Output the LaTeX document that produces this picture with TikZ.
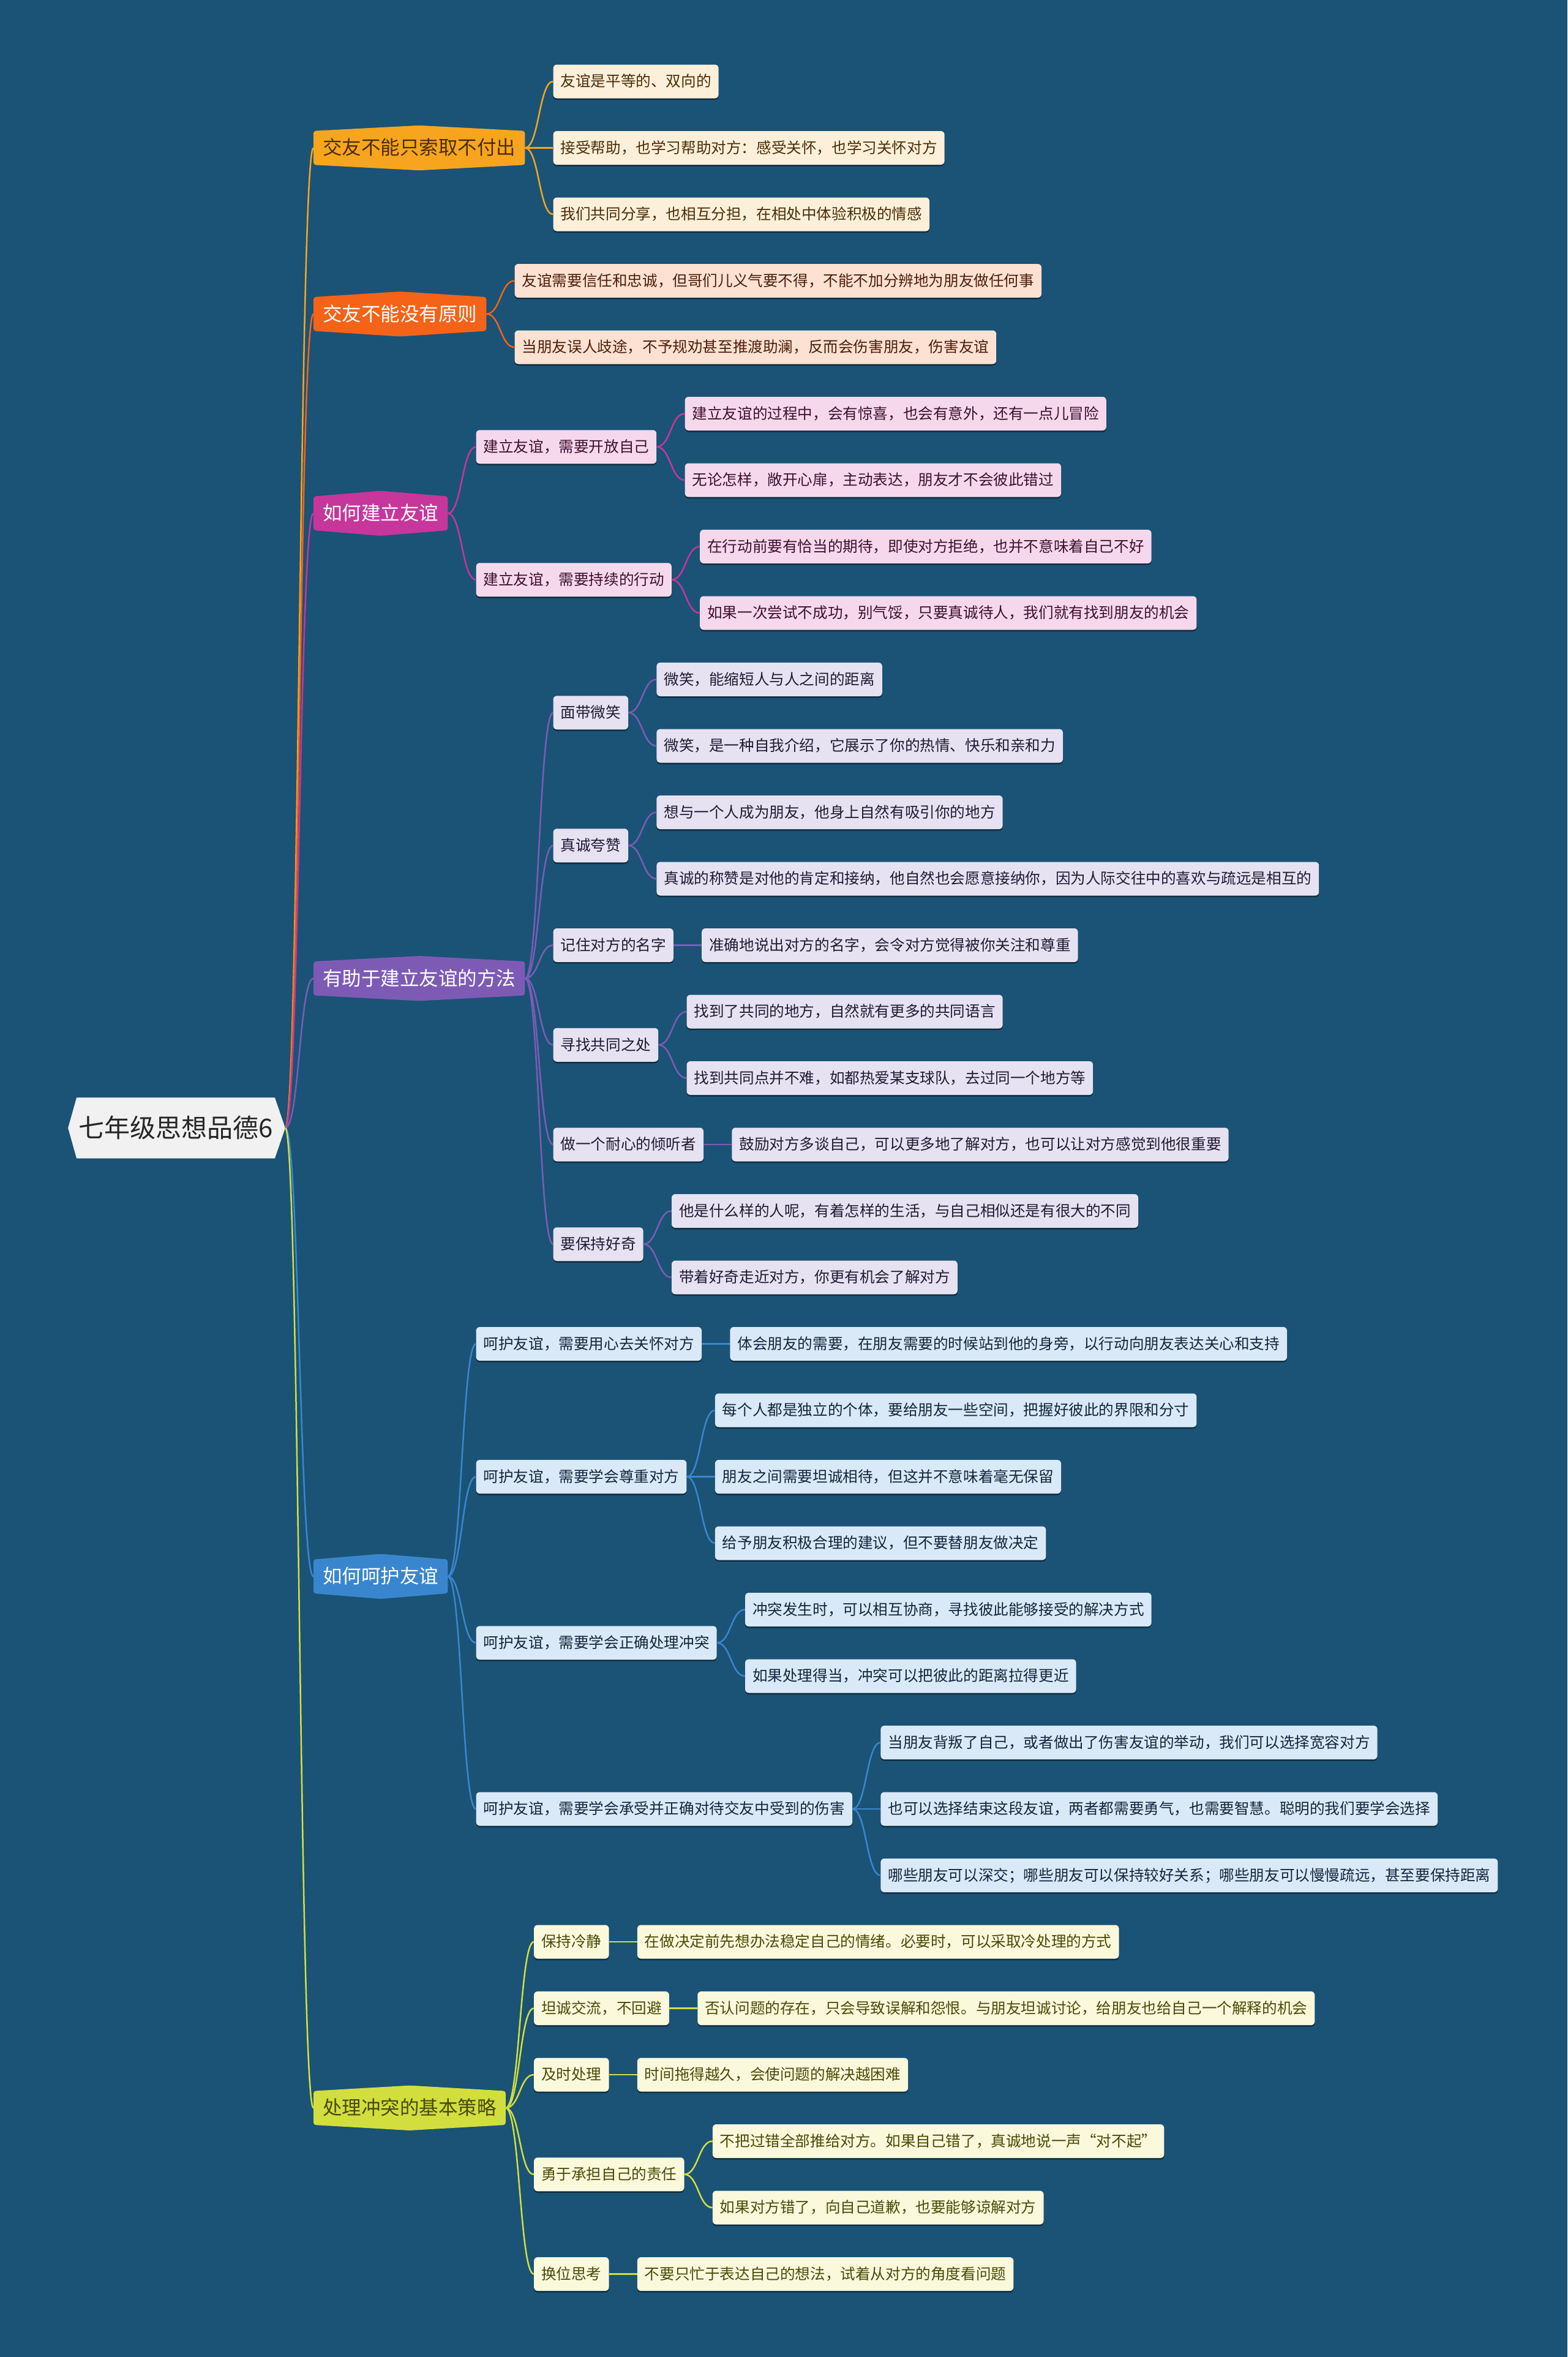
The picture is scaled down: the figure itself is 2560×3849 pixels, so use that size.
\documentclass[tikz,border=0pt]{standalone}
\usepackage{fontspec}
\newfontfamily\cjk{Noto Sans CJK SC}
\usetikzlibrary{positioning,backgrounds,shadows}

\definecolor{bgblue}{RGB}{26,83,118}
\definecolor{rootfill}{RGB}{241,241,241}
\definecolor{mainA}{RGB}{247,165,30}
\definecolor{mainB}{RGB}{244,99,24}
\definecolor{mainC}{RGB}{199,54,154}
\definecolor{mainD}{RGB}{125,91,181}
\definecolor{mainE}{RGB}{58,134,206}
\definecolor{mainF}{RGB}{210,222,62}
\definecolor{leafA}{RGB}{253,240,218}
\definecolor{leafB}{RGB}{253,226,211}
\definecolor{leafC}{RGB}{246,216,236}
\definecolor{leafD}{RGB}{230,226,242}
\definecolor{leafE}{RGB}{218,233,247}
\definecolor{leafF}{RGB}{250,249,220}
\definecolor{txtA}{RGB}{74,46,6}
\definecolor{txtB}{RGB}{77,30,10}
\definecolor{txtC}{RGB}{62,16,48}
\definecolor{txtD}{RGB}{32,27,50}
\definecolor{txtE}{RGB}{18,38,62}
\definecolor{txtF}{RGB}{74,74,8}

\tikzset{
  leaf/.style={anchor=west, rounded corners=6pt, minimum height=55pt,
    inner xsep=12pt, inner ysep=0pt, text height=21pt, text depth=3.5pt,
    font=\cjk\fontsize{24.6}{28}\selectfont,
    drop shadow={shadow xshift=0pt, shadow yshift=-2.5pt, opacity=0.45, fill=black}},
  mainnode/.style={anchor=west, minimum height=55pt, inner xsep=15pt, inner ysep=0pt,
    text height=27pt, text depth=4.5pt, font=\cjk\fontsize{31.5}{36}\selectfont},
  rootnode/.style={minimum height=99pt, inner xsep=3pt, inner ysep=0pt,
    text height=36pt, text depth=6pt, text=black!85, font=\cjk\fontsize{42}{48}\selectfont},
  lfA/.style={leaf, fill=leafA, text=txtA}, lfB/.style={leaf, fill=leafB, text=txtB},
  lfC/.style={leaf, fill=leafC, text=txtC}, lfD/.style={leaf, fill=leafD, text=txtD},
  lfE/.style={leaf, fill=leafE, text=txtE}, lfF/.style={leaf, fill=leafF, text=txtF},
  lnA/.style={draw=mainA, line width=2.5pt}, lnB/.style={draw=mainB, line width=2.5pt},
  lnC/.style={draw=mainC, line width=2.5pt}, lnD/.style={draw=mainD, line width=2.5pt},
  lnE/.style={draw=mainE, line width=2.5pt}, lnF/.style={draw=mainF, line width=2.5pt}
}

\begin{document}
\begin{tikzpicture}[x=1pt, y=-1pt]
    \useasboundingbox (0,0) rectangle (2560,3849);
    \begin{scope}[on background layer]
        \fill[bgblue] (0,0) rectangle (2560,3849);
    \end{scope}

    % centre
    \node[rootnode] (root) at (287,1842) {七年级思想品德6};
    \coordinate (rtip) at ([xshift=17pt]root.east);

    % main topics
    \node[mainnode, text=txtA] (m1) at (512,241.5) {交友不能只索取不付出};
    \node[mainnode, text=white] (m2) at (512,512.75) {交友不能没有原则};
    \node[mainnode, text=white] (m3) at (512,838.25) {如何建立友谊};
    \node[mainnode, text=white] (m4) at (512,1597.75) {有助于建立友谊的方法};
    \node[mainnode, text=white] (m5) at (512,2574.25) {如何呵护友谊};
    \node[mainnode, text=txtF] (m6) at (512,3442.25) {处理冲突的基本策略};

    % branch 1
    \node[lfA] (l1a) at (m1.east |- 0,133) [xshift=46pt] {友谊是平等的、双向的};
    \node[lfA] (l1b) at (m1.east |- 0,241.5) [xshift=46pt] {接受帮助，也学习帮助对方：感受关怀，也学习关怀对方};
    \node[lfA] (l1c) at (m1.east |- 0,350) [xshift=46pt] {我们共同分享，也相互分担，在相处中体验积极的情感};

    % branch 2
    \node[lfB] (l2a) at (m2.east |- 0,458.5) [xshift=46pt] {友谊需要信任和忠诚，但哥们儿义气要不得，不能不加分辨地为朋友做任何事};
    \node[lfB] (l2b) at (m2.east |- 0,567) [xshift=46pt] {当朋友误人歧途，不予规劝甚至推渡助澜，反而会伤害朋友，伤害友谊};

    % branch 3
    \node[lfC] (s3a) at (m3.east |- 0,729.75) [xshift=46pt] {建立友谊，需要开放自己};
    \node[lfC] (s3b) at (m3.east |- 0,946.75) [xshift=46pt] {建立友谊，需要持续的行动};
    \node[lfC] (l3a) at (s3a.east |- 0,675.5) [xshift=46pt] {建立友谊的过程中，会有惊喜，也会有意外，还有一点儿冒险};
    \node[lfC] (l3b) at (s3a.east |- 0,784) [xshift=46pt] {无论怎样，敞开心扉，主动表达，朋友才不会彼此错过};
    \node[lfC] (l3c) at (s3b.east |- 0,892.5) [xshift=46pt] {在行动前要有恰当的期待，即使对方拒绝，也并不意味着自己不好};
    \node[lfC] (l3d) at (s3b.east |- 0,1001) [xshift=46pt] {如果一次尝试不成功，别气馁，只要真诚待人，我们就有找到朋友的机会};

    % branch 4
    \node[lfD] (s4a) at (m4.east |- 0,1163.75) [xshift=46pt] {面带微笑};
    \node[lfD] (s4b) at (m4.east |- 0,1380.75) [xshift=46pt] {真诚夸赞};
    \node[lfD] (s4c) at (m4.east |- 0,1543.5) [xshift=46pt] {记住对方的名字};
    \node[lfD] (s4d) at (m4.east |- 0,1706.25) [xshift=46pt] {寻找共同之处};
    \node[lfD] (s4e) at (m4.east |- 0,1869) [xshift=46pt] {做一个耐心的倾听者};
    \node[lfD] (s4f) at (m4.east |- 0,2031.75) [xshift=46pt] {要保持好奇};
    \node[lfD] (l4a) at (s4a.east |- 0,1109.5) [xshift=46pt] {微笑，能缩短人与人之间的距离};
    \node[lfD] (l4b) at (s4a.east |- 0,1218) [xshift=46pt] {微笑，是一种自我介绍，它展示了你的热情、快乐和亲和力};
    \node[lfD] (l4c) at (s4b.east |- 0,1326.5) [xshift=46pt] {想与一个人成为朋友，他身上自然有吸引你的地方};
    \node[lfD] (l4d) at (s4b.east |- 0,1435) [xshift=46pt] {真诚的称赞是对他的肯定和接纳，他自然也会愿意接纳你，因为人际交往中的喜欢与疏远是相互的};
    \node[lfD] (l4e) at (s4c.east |- 0,1543.5) [xshift=46pt] {准确地说出对方的名字，会令对方觉得被你关注和尊重};
    \node[lfD] (l4f) at (s4d.east |- 0,1652) [xshift=46pt] {找到了共同的地方，自然就有更多的共同语言};
    \node[lfD] (l4g) at (s4d.east |- 0,1760.5) [xshift=46pt] {找到共同点并不难，如都热爱某支球队，去过同一个地方等};
    \node[lfD] (l4h) at (s4e.east |- 0,1869) [xshift=46pt] {鼓励对方多谈自己，可以更多地了解对方，也可以让对方感觉到他很重要};
    \node[lfD] (l4i) at (s4f.east |- 0,1977.5) [xshift=46pt] {他是什么样的人呢，有着怎样的生活，与自己相似还是有很大的不同};
    \node[lfD] (l4j) at (s4f.east |- 0,2086) [xshift=46pt] {带着好奇走近对方，你更有机会了解对方};

    % branch 5
    \node[lfE] (s5a) at (m5.east |- 0,2194.5) [xshift=46pt] {呵护友谊，需要用心去关怀对方};
    \node[lfE] (s5b) at (m5.east |- 0,2411.5) [xshift=46pt] {呵护友谊，需要学会尊重对方};
    \node[lfE] (s5c) at (m5.east |- 0,2682.75) [xshift=46pt] {呵护友谊，需要学会正确处理冲突};
    \node[lfE] (s5d) at (m5.east |- 0,2954) [xshift=46pt] {呵护友谊，需要学会承受并正确对待交友中受到的伤害};
    \node[lfE] (l5a) at (s5a.east |- 0,2194.5) [xshift=46pt] {体会朋友的需要，在朋友需要的时候站到他的身旁，以行动向朋友表达关心和支持};
    \node[lfE] (l5b) at (s5b.east |- 0,2303) [xshift=46pt] {每个人都是独立的个体，要给朋友一些空间，把握好彼此的界限和分寸};
    \node[lfE] (l5c) at (s5b.east |- 0,2411.5) [xshift=46pt] {朋友之间需要坦诚相待，但这并不意味着毫无保留};
    \node[lfE] (l5d) at (s5b.east |- 0,2520) [xshift=46pt] {给予朋友积极合理的建议，但不要替朋友做决定};
    \node[lfE] (l5e) at (s5c.east |- 0,2628.5) [xshift=46pt] {冲突发生时，可以相互协商，寻找彼此能够接受的解决方式};
    \node[lfE] (l5f) at (s5c.east |- 0,2737) [xshift=46pt] {如果处理得当，冲突可以把彼此的距离拉得更近};
    \node[lfE] (l5g) at (s5d.east |- 0,2845.5) [xshift=46pt] {当朋友背叛了自己，或者做出了伤害友谊的举动，我们可以选择宽容对方};
    \node[lfE] (l5h) at (s5d.east |- 0,2954) [xshift=46pt] {也可以选择结束这段友谊，两者都需要勇气，也需要智慧。聪明的我们要学会选择};
    \node[lfE] (l5i) at (s5d.east |- 0,3062.5) [xshift=46pt] {哪些朋友可以深交；哪些朋友可以保持较好关系；哪些朋友可以慢慢疏远，甚至要保持距离};

    % branch 6
    \node[lfF] (s6a) at (m6.east |- 0,3171) [xshift=46pt] {保持冷静};
    \node[lfF] (s6b) at (m6.east |- 0,3279.5) [xshift=46pt] {坦诚交流，不回避};
    \node[lfF] (s6c) at (m6.east |- 0,3388) [xshift=46pt] {及时处理};
    \node[lfF] (s6d) at (m6.east |- 0,3550.75) [xshift=46pt] {勇于承担自己的责任};
    \node[lfF] (s6e) at (m6.east |- 0,3713.5) [xshift=46pt] {换位思考};
    \node[lfF] (l6a) at (s6a.east |- 0,3171) [xshift=46pt] {在做决定前先想办法稳定自己的情绪。必要时，可以采取冷处理的方式};
    \node[lfF] (l6b) at (s6b.east |- 0,3279.5) [xshift=46pt] {否认问题的存在，只会导致误解和怨恨。与朋友坦诚讨论，给朋友也给自己一个解释的机会};
    \node[lfF] (l6c) at (s6c.east |- 0,3388) [xshift=46pt] {时间拖得越久，会使问题的解决越困难};
    \node[lfF] (l6d) at (s6d.east |- 0,3496.5) [xshift=46pt] {不把过错全部推给对方。如果自己错了，真诚地说一声“对不起”};
    \node[lfF] (l6e) at (s6d.east |- 0,3605) [xshift=46pt] {如果对方错了，向自己道歉，也要能够谅解对方};
    \node[lfF] (l6f) at (s6e.east |- 0,3713.5) [xshift=46pt] {不要只忙于表达自己的想法，试着从对方的角度看问题};

    % connectors
    \foreach \b/\s in {m1/lnA, m2/lnB, m3/lnC, m4/lnD, m5/lnE, m6/lnF}
        \draw[\s] (rtip) .. controls +(23,0) and +(-23,0) .. (\b.west);
    \foreach \a/\b/\s in {m1/l1a/lnA, m1/l1b/lnA, m1/l1c/lnA, m2/l2a/lnB, m2/l2b/lnB,
        m3/s3a/lnC, m3/s3b/lnC, s3a/l3a/lnC, s3a/l3b/lnC, s3b/l3c/lnC, s3b/l3d/lnC,
        m4/s4a/lnD, m4/s4b/lnD, m4/s4c/lnD, m4/s4d/lnD, m4/s4e/lnD, m4/s4f/lnD,
        s4a/l4a/lnD, s4a/l4b/lnD, s4b/l4c/lnD, s4b/l4d/lnD, s4c/l4e/lnD, s4d/l4f/lnD,
        s4d/l4g/lnD, s4e/l4h/lnD, s4f/l4i/lnD, s4f/l4j/lnD,
        m5/s5a/lnE, m5/s5b/lnE, m5/s5c/lnE, m5/s5d/lnE, s5a/l5a/lnE, s5b/l5b/lnE,
        s5b/l5c/lnE, s5b/l5d/lnE, s5c/l5e/lnE, s5c/l5f/lnE, s5d/l5g/lnE, s5d/l5h/lnE, s5d/l5i/lnE,
        m6/s6a/lnF, m6/s6b/lnF, m6/s6c/lnF, m6/s6d/lnF, m6/s6e/lnF, s6a/l6a/lnF,
        s6b/l6b/lnF, s6c/l6c/lnF, s6d/l6d/lnF, s6d/l6e/lnF, s6e/l6f/lnF}
        \draw[\s] (\a.east) .. controls +(23,0) and +(-23,0) .. (\b.west);

    % node shapes behind the texts
    \begin{scope}[on background layer]
        \fill[rootfill] (root.north west) -- (root.north east) -- (rtip)
            -- (root.south east) -- (root.south west) -- ([xshift=-14pt]root.west) -- cycle;
        \foreach \n/\c in {m1/mainA, m2/mainB, m3/mainC, m4/mainD, m5/mainE, m6/mainF}
            \fill[\c, rounded corners=4pt] (\n.north west) -- ([yshift=9pt]\n.north)
                -- (\n.north east) -- (\n.south east) -- ([yshift=-9pt]\n.south)
                -- (\n.south west) -- cycle;
    \end{scope}
\end{tikzpicture}
\end{document}
